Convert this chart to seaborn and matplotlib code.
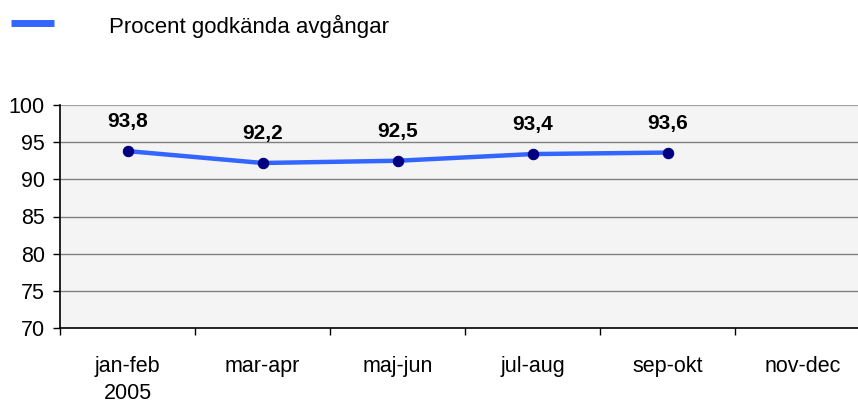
import numpy as np
import pandas as pd
import matplotlib
matplotlib.use("Agg")
import matplotlib.pyplot as plt
import seaborn as sns
from matplotlib.ticker import FixedLocator

categories = ["jan-feb\n2005", "mar-apr", "maj-jun", "jul-aug", "sep-okt", "nov-dec"]
values = [93.8, 92.2, 92.5, 93.4, 93.6, np.nan]
series_name = "Procent godkända avgångar"
yticks = [70, 75, 80, 85, 90, 95, 100]

sns.set_theme(style="white")
plt.rcParams['font.family'] = ['Liberation Sans', 'DejaVu Sans']

df = pd.DataFrame({"pos": np.arange(len(categories)), "value": values})

fig = plt.figure(figsize=(8.58, 4.03), dpi=100)
W, H = 858, 403
ax = fig.add_axes([60 / W, 1 - 328 / H, 798 / W, (328 - 105) / H])
ax.set_facecolor("#f4f4f4")

sns.lineplot(data=df, x="pos", y="value", ax=ax, color="#3366ff", linewidth=3.2,
             marker="o", markersize=7.5, markerfacecolor="#000080",
             markeredgecolor="#000080", label=series_name, legend=False)

for x, v in zip(df["pos"], df["value"]):
    if not np.isnan(v):
        ax.annotate(f"{v:.1f}".replace(".", ","), (x, v), xytext=(0, 21),
                    textcoords="offset points", ha="center", va="center",
                    fontsize=15, fontweight="bold", color="#000000")

ax.set_xlim(-0.5, -0.5 + 798 / 135)
ax.set_ylim(70, 100)
ax.set_yticks(yticks)
ax.set_yticklabels([str(t) for t in yticks], fontsize=15.5, color="#000000")
ax.set_xticks(np.arange(len(categories)))
ax.set_xticklabels(categories, fontsize=15.5, linespacing=1.4, color="#000000")
ax.xaxis.set_minor_locator(FixedLocator(np.arange(-0.5, len(categories), 1.0)))
ax.tick_params(axis="x", which="major", length=0, pad=20)
ax.tick_params(axis="x", which="minor", length=5, width=1, color="#000000", direction="out", bottom=True)
ax.tick_params(axis="y", which="major", length=5, width=1, color="#000000", direction="out", left=True, pad=6)
ax.set_xlabel("")
ax.set_ylabel("")

for t in yticks[1:]:
    ax.axhline(t, color="#808080" if t < 100 else "#a0a0a0", linewidth=1.6 if t == 100 else 1.0, zorder=0.5)

for side in ["top", "right"]:
    ax.spines[side].set_visible(False)
ax.spines["left"].set_color("#000000")
ax.spines["bottom"].set_color("#000000")
ax.spines["left"].set_linewidth(1.2)
ax.spines["bottom"].set_linewidth(1.2)

# legend
fig.add_artist(plt.Line2D([11 / W, 54 / W], [1 - 23 / H, 1 - 23 / H], color="#3366ff",
                          linewidth=5, solid_capstyle="butt"))
fig.text(109 / W, 1 - 26 / H, series_name, fontsize=16, va="center", ha="left", color="#000000")

fig.savefig("out.png", dpi=100)
